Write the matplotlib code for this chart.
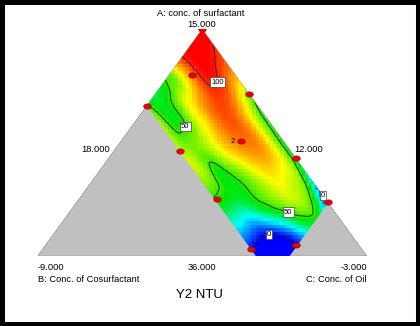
import numpy as np
import matplotlib
matplotlib.use('Agg')
import matplotlib.pyplot as plt
import matplotlib.tri as mtri
from matplotlib.colors import LinearSegmentedColormap, Normalize
from matplotlib.patches import Polygon, Rectangle

plt.rcParams['font.family'] = ['Liberation Sans', 'DejaVu Sans']

### DATA
# constraints on the (fractional) components
BMAX = 0.337   # B: cosurfactant upper limit
CMAX = 0.766   # C: oil upper limit

# design points (a, b, c) fractions
pt_a = [1.000, 0.798, 0.715, 0.663, 0.507, 0.463, 0.432, 0.238, 0.251, 0.030, 0.049]
pt_b = [0.000, 0.133, 0.000, 0.337, 0.130, 0.337, 0.000, 0.000, 0.330, 0.337, 0.191]
pt_c = [0.000, 0.069, 0.285, 0.000, 0.363, 0.200, 0.568, 0.762, 0.419, 0.633, 0.760]

# Y2 NTU on a grid: u = b/BMAX (columns), v = 1-a (rows)
u_nodes = [0.0, 0.1, 0.2, 0.3, 0.4, 0.5, 0.6, 0.7, 0.8, 0.9, 1.0]
v_nodes = [0.0, 0.1, 0.2, 0.3, 0.4, 0.5, 0.6, 0.7, 0.8, 0.9, 1.0]
y2_grid = [
    [118, 120, 120, 118, 115, 110, 105, 100, 95, 90, 85],
    [95, 105, 108, 105, 100, 95, 90, 85, 80, 75, 70],
    [80, 92, 103, 102, 88, 70, 55, 48, 42, 40, 40],
    [53, 72, 90, 97, 92, 80, 67, 54, 44, 40, 42],
    [46, 62, 80, 92, 93, 85, 72, 60, 46, 46, 60],
    [43, 62, 80, 88, 88, 83, 75, 65, 58, 55, 62],
    [38, 62, 72, 78, 76, 70, 62, 55, 48, 60, 65],
    [8, 52, 63, 68, 66, 60, 53, 45, 44, 51, 56],
    [-10, 28, 52, 56, 53, 48, 42, 36, 32, 35, 40],
    [-15, 10, 25, 30, 25, 15, 6, 2, 3, 10, 18],
    [-20, 10, 20, 20, 12, 5, -5, -15, -18, -15, -5],
]
levels = [0, 50, 100]

### helpers
def to_xy(a, b, c):
    a = np.asarray(a, float); c = np.asarray(c, float)
    return c + a / 2.0, a

def px(x, y):
    # pixel position -> figure fraction
    return x / 420.0, 1 - y / 326.0

def px_data(x, y):
    # pixel position -> axes data coords
    return (x - 37.7) / 329.0, (256.0 - y) / 226.7

uu, vv = np.meshgrid(u_nodes, v_nodes)
tri = mtri.Triangulation(uu.ravel(), vv.ravel())
model = mtri.CubicTriInterpolator(tri, np.asarray(y2_grid, float).ravel())

def field(X, Y):
    a = Y
    c = X - a / 2.0
    b = 1 - a - c
    u = np.clip(b / BMAX, 0, 1)
    v = np.clip(1 - a, 0, 1)
    return np.asarray(model(u, v))

### colours
cvals = [0, 25, 45, 70, 105]
ccols = ['#0000ff', '#00ffff', '#00e600', '#ffff00', '#ff0000']
cmap = LinearSegmentedColormap.from_list('de', list(zip([v / cvals[-1] for v in cvals], ccols)))
norm = Normalize(0, cvals[-1])

### FIGURE
fig = plt.figure(figsize=(4.2, 3.26), dpi=100)
ax = fig.add_axes([37.7 / 420, 70 / 326, 329 / 420, 226.7 / 326])
ax.set_xlim(0, 1)
ax.set_ylim(0, 1)
ax.axis('off')

ax.add_patch(Polygon([[0, 0], [1, 0], [0.5, 1]], closed=True, fc='#c0c0c0', ec='#a0a0a0', lw=0.6, zorder=1))

# feasible region
ra = [1, 1 - BMAX, 0, 0, 1 - CMAX]
rb = [0, BMAX, BMAX, 1 - CMAX, 0]
rc = [0, 0, 1 - BMAX, CMAX, CMAX]
rx, ry = to_xy(ra, rb, rc)
region = Polygon(np.c_[rx, ry], closed=True, fc='none', ec='none')
ax.add_patch(region)

# blocky surface
nx, ny = 94, 65
xc = (np.arange(nx) + 0.5) / nx
yc = (np.arange(ny) + 0.5) / ny
XC, YC = np.meshgrid(xc, yc)
Z = field(XC, YC)
im = ax.imshow(Z, extent=(0, 1, 0, 1), origin='lower', cmap=cmap, norm=norm,
               interpolation='nearest', aspect='auto', zorder=2)
im.set_clip_path(region)

# contours
xf = np.linspace(0, 1, 400)
yf = np.linspace(0, 1, 300)
XF, YF = np.meshgrid(xf, yf)
ZF = field(XF, YF)
cs = ax.contour(XF, YF, ZF, levels=levels, colors='#202020', linewidths=0.6, zorder=3)
cs.set_clip_path(region)
lab_pos = [px_data(219, 82), px_data(191, 127), px_data(288, 213), px_data(323, 191), px_data(269, 234)]
labs = ax.clabel(cs, fmt='%d', manual=lab_pos, inline=False, fontsize=5.5, colors='black')
for t in labs:
    t.set_rotation(0)
    t.set_zorder(6)
    t.set_bbox(dict(facecolor='white', edgecolor='#404040', pad=0.8, lw=0.5))

# design points
t = np.linspace(0, 2 * np.pi, 30)
ell = np.c_[np.cos(t), 0.7 * np.sin(t)]
dx, dy = to_xy(pt_a, pt_b, pt_c)
ax.scatter(dx, dy, s=30, marker=ell, c='#ee0000', edgecolors='#880000', linewidths=0.4, zorder=5)
ax.text(dx[4] - 0.017, dy[4], '2', fontsize=5.5, ha='right', va='center', zorder=6)

### text
fs = 6.7
fig.text(*px(201, 14), 'A: conc. of surfactant', fontsize=fs, ha='center', va='center')
fig.text(*px(201.5, 24.5), '15.000', fontsize=fs, ha='center', va='center')
fig.text(*px(96, 149.5), '18.000', fontsize=fs, ha='center', va='center')
fig.text(*px(309, 149.5), '12.000', fontsize=fs, ha='center', va='center')
fig.text(*px(37.5, 268), '-9.000', fontsize=fs, ha='left', va='center')
fig.text(*px(202, 268), '36.000', fontsize=fs, ha='center', va='center')
fig.text(*px(367, 268), '-3.000', fontsize=fs, ha='right', va='center')
fig.text(*px(37.5, 280), 'B: Conc. of Cosurfactant', fontsize=fs, ha='left', va='center')
fig.text(*px(367, 280), 'C: Conc. of Oil', fontsize=fs, ha='right', va='center')
fig.text(*px(199, 295), 'Y2 NTU', fontsize=9.5, ha='center', va='center')

# black frame
fig.patches.append(Rectangle((0, 0), 1, 1, transform=fig.transFigure, fill=False,
                             ec='black', lw=6.5))

fig.savefig('out.png', dpi=100)
